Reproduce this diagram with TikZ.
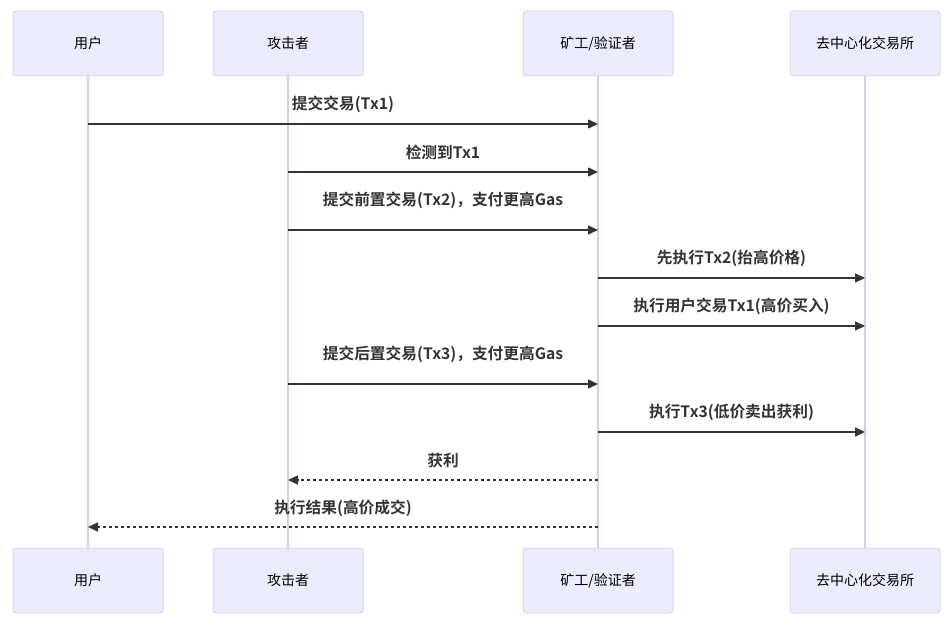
\documentclass[tikz,border=0pt]{standalone}
\usepackage{fontspec}
\newfontfamily\cjk{Noto Sans CJK SC}[BoldFont={Noto Sans CJK SC Bold}]
\usepackage{tikz}
\usetikzlibrary{arrows.meta,positioning}

\definecolor{actorfill}{HTML}{ECECFF}
\definecolor{actorline}{HTML}{DDD3F5}
\definecolor{lifeline}{HTML}{D6CCF2}
\definecolor{msgline}{HTML}{333333}

\tikzset{
  actor/.style={draw=actorline, fill=actorfill, line width=1pt, rounded corners=3pt,
    minimum width=150pt, minimum height=65pt, inner sep=0pt,
    font=\cjk\fontsize{14pt}{16pt}\selectfont},
  life/.style={draw=lifeline, line width=1.3pt},
  msg/.style={draw=msgline, line width=1.5pt, -{Triangle[length=10pt,width=9pt]}},
  reply/.style={msg, dash pattern=on 3pt off 3pt},
  msglabel/.style={font=\cjk\bfseries\fontsize{15.7pt}{17pt}\selectfont, text=msgline,
    inner sep=0pt},
}

\begin{document}
\begin{tikzpicture}[x=1pt,y=-1pt]
    \useasboundingbox (0,0) rectangle (952,620);

    % actors, top row
    \node [actor] (user) at (88,43.5) {用户};
    \node [actor] (att) at (288,43.5) {攻击者};
    \node [actor] (miner) at (598,43.5) {矿工/验证者};
    \node [actor] (dex) at (865,43.5) {去中心化交易所};

    % actors, bottom row
    \node [actor] (userB) at (88,580.5) {用户};
    \node [actor] (attB) at (288,580.5) {攻击者};
    \node [actor] (minerB) at (598,580.5) {矿工/验证者};
    \node [actor] (dexB) at (865,580.5) {去中心化交易所};

    % lifelines
    \foreach \a in {user,att,miner,dex}
      \draw [life] (\a.south) -- (\a B.north);

    % message levels
    \foreach \i/\y in {1/124,2/172,3/230,4/278,5/326,6/384,7/432,8/480,9/527}
      \coordinate (y\i) at (0,\y);

    % messages
    \draw [msg] (user |- y1) -- (miner |- y1)
      node [msglabel, midway, above=11pt] (m1) {提交交易(Tx1)};
    \draw [msg] (att |- y2) -- (miner |- y2)
      node [msglabel, midway, above=11pt] (m2) {检测到Tx1};
    \draw [msg] (att |- y3) -- (miner |- y3)
      node [msglabel, midway, above=21pt] (m3) {提交前置交易(Tx2)，支付更高Gas};
    \draw [msg] (miner |- y4) -- (dex |- y4)
      node [msglabel, midway, above=11pt] (m4) {先执行Tx2(抬高价格)};
    \draw [msg] (miner |- y5) -- (dex |- y5)
      node [msglabel, midway, above=11pt] (m5) {执行用户交易Tx1(高价买入)};
    \draw [msg] (att |- y6) -- (miner |- y6)
      node [msglabel, midway, above=21pt] (m6) {提交后置交易(Tx3)，支付更高Gas};
    \draw [msg] (miner |- y7) -- (dex |- y7)
      node [msglabel, midway, above=11pt] (m7) {执行Tx3(低价卖出获利)};
    \draw [reply] (miner |- y8) -- (att |- y8)
      node [msglabel, midway, above=11pt] (m8) {获利};
    \draw [reply] (miner |- y9) -- (user |- y9)
      node [msglabel, midway, above=10pt] (m9) {执行结果(高价成交)};
  \end{tikzpicture}
\end{document}
